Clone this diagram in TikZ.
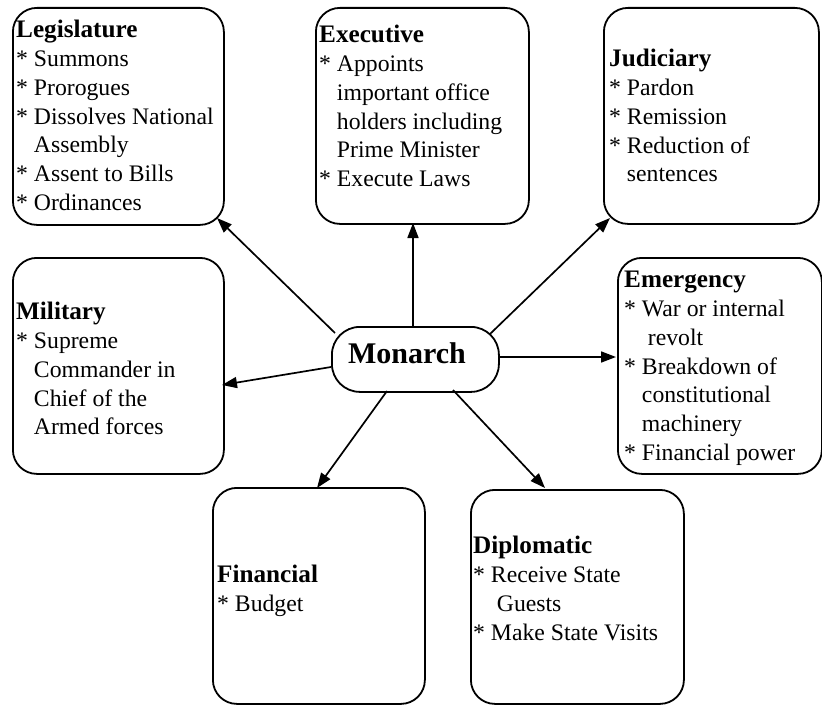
\documentclass[tikz,border=0pt]{standalone}
\usepackage{fontspec}
\setmainfont{Liberation Serif}
\usetikzlibrary{arrows.meta}
\newcommand{\bodyfs}{\fontsize{23.7pt}{28.8pt}\selectfont}
\newcommand{\hang}{\hphantom{*\ }}
\newcommand{\ttl}[1]{{\fontsize{25.2pt}{28.8pt}\selectfont\bfseries #1}}
\begin{document}
\begin{tikzpicture}[x=1pt,y=-1pt,
  box/.style={draw, line width=1.8pt, rounded corners=24pt, inner sep=0pt, anchor=north west},
  monbox/.style={draw, line width=1.8pt, rounded corners=28pt, inner sep=0pt, anchor=north west},
  txt/.style={anchor=north west, inner sep=0pt, align=left, font=\bodyfs},
  arr/.style={line width=1.7pt, -{Triangle[length=15pt,width=11pt]}}]
\useasboundingbox (0,0) rectangle (822,706);
% boxes
\node[box, minimum width=211pt, minimum height=217pt] (leg) at (12,7) {};
\node[box, minimum width=213pt, minimum height=216pt] (exe) at (315,7) {};
\node[box, minimum width=215pt, minimum height=216pt] (jud) at (603,7) {};
\node[box, minimum width=211pt, minimum height=216pt] (mil) at (12,257) {};
\node[box, minimum width=204pt, minimum height=216pt] (emg) at (617,257) {};
\node[box, minimum width=212pt, minimum height=216pt] (fin) at (212,487) {};
\node[box, minimum width=213pt, minimum height=214pt] (dip) at (470,489) {};
\node[monbox, minimum width=167pt, minimum height=65pt] (mon) at (331,326) {};
% texts
\node[anchor=base, inner sep=0pt, font=\fontsize{30pt}{36pt}\selectfont\bfseries] (monT) at (407,363) {Monarch};
\node[txt] (legT) at (16,20) {\ttl{Legislature}\\{}* Summons\\{}* Prorogues\\{}* Dissolves National\\\hang Assembly\\{}* Assent to Bills\\{}* Ordinances};
\node[txt] (exeT) at (319,25) {\ttl{Executive}\\{}* Appoints\\\hang important office\\\hang holders including\\\hang Prime Minister\\{}* Execute Laws};
\node[txt] (judT) at (609,49) {\ttl{Judiciary}\\{}* Pardon\\{}* Remission\\{}* Reduction of\\\hang sentences};
\node[txt] (milT) at (16,302) {\ttl{Military}\\{}* Supreme\\\hang Commander in\\\hang Chief of the\\\hang Armed forces};
\node[txt] (emgT) at (624,271) {\ttl{Emergency}\\{}* War or internal\\\hang\ revolt\\{}* Breakdown of\\\hang constitutional\\\hang machinery\\{}* Financial power};
\node[txt] (finT) at (217,565) {\ttl{Financial}\\{}* Budget};
\node[txt] (dipT) at (473,536) {\ttl{Diplomatic}\\{}* Receive State\\\hang\ Guests\\{}* Make State Visits};
% connector end points
\coordinate (sL) at (335,333); \coordinate (tL) at (217,218);
\coordinate (sE) at (413,326); \coordinate (tE) at (413,223);
\coordinate (sJ) at (490,334); \coordinate (tJ) at (610,218);
\coordinate (sM) at (498,357); \coordinate (tM) at (616,357);
\coordinate (sK) at (331,367); \coordinate (tK) at (222,385);
\coordinate (sF) at (387,391); \coordinate (tF) at (317,488);
\coordinate (sD) at (453,390); \coordinate (tD) at (545,488);
\draw[arr] (sL) -- (tL);
\draw[arr] (sE) -- (tE);
\draw[arr] (sJ) -- (tJ);
\draw[arr] (sM) -- (tM);
\draw[arr] (sK) -- (tK);
\draw[arr] (sF) -- (tF);
\draw[arr] (sD) -- (tD);
\end{tikzpicture}
\end{document}
